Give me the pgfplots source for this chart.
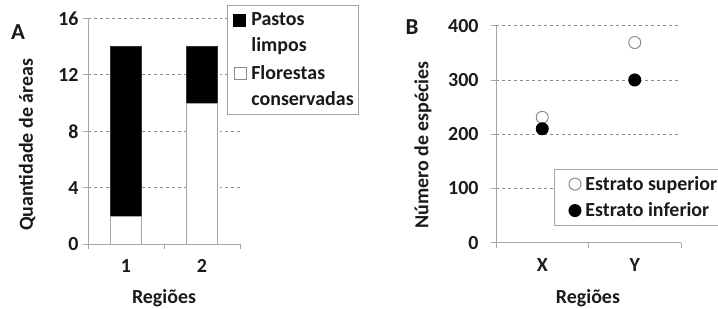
\documentclass[border=0pt]{standalone}
\usepackage{pgfplots}
\pgfplotsset{compat=1.18}
\usepackage{fontspec}
\setmainfont{Carlito}
\definecolor{axgray}{HTML}{A6A6A6}
\definecolor{gridgray}{HTML}{8C8C8C}
\definecolor{txt}{HTML}{1A1A1A}
\begin{document}
\begin{tikzpicture}[font=\fontsize{20}{23}\selectfont\bfseries, text=txt]
\path[use as bounding box] (0,0) rectangle (718bp,309bp);
\pgfplotsset{
 common/.style={
  scale only axis, axis lines=left,
  axis line style={-, draw=axgray, line width=0.9bp},
  /pgf/number format/assume math mode=true,
  xmin=0, xmax=2, xtick={0,1,2}, xticklabels={},
  extra x ticks={0.5,1.5},
  extra x tick style={major tick length=0pt, grid=none, xticklabel style={anchor=center, yshift=-22bp}},
  tick align=outside, major tick length=5bp,
  tick style={draw=axgray, line width=0.9bp},
  ymajorgrids, grid style={dashed, draw=gridgray, line width=0.9bp},
  legend style={draw=axgray, line width=0.9bp, fill=white,
    cells={anchor=west, align=left}, inner sep=3bp, text=txt},
 },
 openleg/.style={legend image code/.code={\path (0bp,0bp) (25bp,0bp); \draw[mark=*, mark size=6bp, mark options={fill=white, draw=gridgray, line width=1bp}] plot coordinates {(17bp,0bp)};}},
 fullleg/.style={legend image code/.code={\path (0bp,0bp) (25bp,0bp); \draw[mark=*, mark size=6bp, mark options={fill=black, draw=black, line width=1bp}] plot coordinates {(17bp,0bp)};}},
}
% Panel A
\begin{axis}[common,
  at={(88bp,64.7bp)}, anchor=south west, width=152bp, height=226bp,
  ymin=0, ymax=16, ytick={0,4,8,12,16},
  extra x tick labels={1,2},
  yticklabel style={xshift=-1bp},
  ybar stacked, bar width=31bp,
  ylabel={Quantidade de áreas}, xlabel={Regiões},
  ylabel style={at={(axis description cs:-0.40,0.44)}, anchor=center, rotate=0},
  xlabel style={at={(axis description cs:0.5,-0.238)}, anchor=center},
  legend style={at={(axis description cs:0.9145,1.0589)}, anchor=north west, row sep=8bp,
    inner ysep=5.5bp, font=\fontsize{20}{26}\selectfont\bfseries},
  reverse legend,
]
\addplot+[fill=white, draw=axgray, line width=0.9bp,
  legend image code/.code={\path (0bp,-20bp) (18bp,20bp); \draw[fill=white, draw=gridgray, line width=0.7bp] (3bp,7bp) rectangle (15bp,19bp);}]
  coordinates {(0.5,2) (1.5,10)};
\addplot+[fill=black, draw=black!80, line width=0.9bp,
  legend image code/.code={\path (0bp,-20bp) (18bp,20bp); \draw[fill=black, draw=black] (3bp,7bp) rectangle (15bp,19bp);}]
  coordinates {(0.5,12) (1.5,4)};
\legend{Florestas\\conservadas, Pastos\\limpos}
\end{axis}
\node at (18bp,277bp) {\fontsize{23}{25}\selectfont\bfseries A};
% Panel B
\begin{axis}[common,
  at={(496bp,66.3bp)}, anchor=south west, width=185bp, height=217bp,
  ymin=0, ymax=400, ytick={0,100,200,300,400},
  extra x tick labels={X,Y},
  yticklabel style={xshift=-9bp},
  ylabel={Número de espécies}, xlabel={Regiões},
  ylabel style={at={(axis description cs:-0.395,0.45)}, anchor=center, rotate=0},
  xlabel style={at={(axis description cs:0.497,-0.255)}, anchor=center},
  legend style={at={(axis description cs:0.314,0.34)}, anchor=north west, row sep=7bp,
    inner ysep=5bp, font=\fontsize{20}{23}\selectfont\bfseries},
]
\addplot[only marks, mark=*, mark size=6bp, mark options={fill=white, draw=gridgray, line width=1bp}, openleg]
  coordinates {(0.5,231) (1.5,369)};
\addplot[only marks, mark=*, mark size=6bp, mark options={fill=black, draw=black, line width=1bp}, fullleg]
  coordinates {(0.5,210) (1.5,300)};
\legend{Estrato superior, Estrato inferior}
\end{axis}
\node at (412bp,282bp) {\fontsize{23}{25}\selectfont\bfseries B};
\end{tikzpicture}
\end{document}
